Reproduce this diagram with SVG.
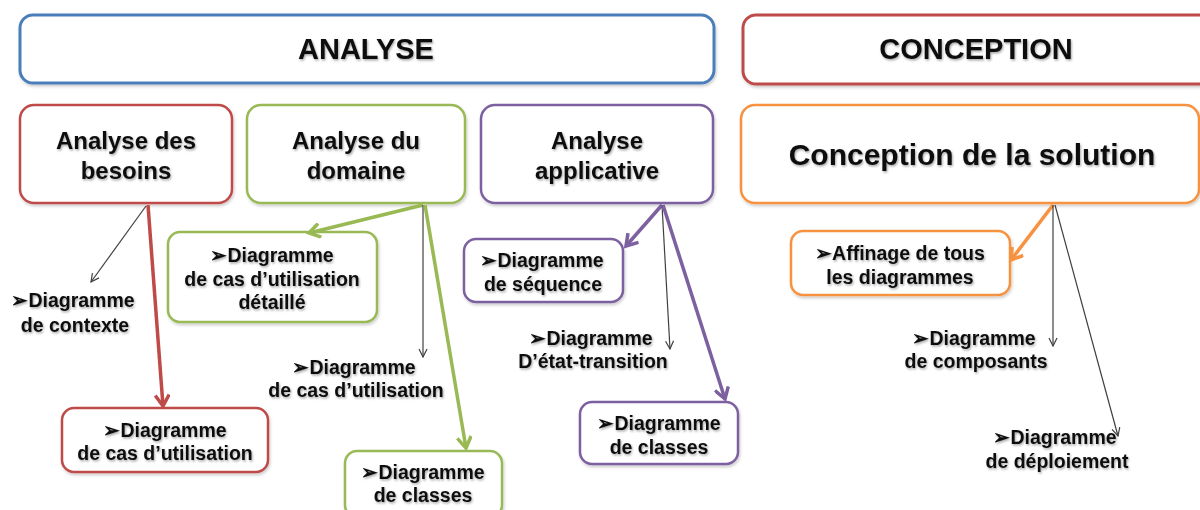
<svg xmlns="http://www.w3.org/2000/svg" width="1200" height="510" viewBox="0 0 1200 510">
<defs>
<style>
text{font-family:"Liberation Sans",Arial,sans-serif;font-weight:bold;fill:#111;text-anchor:middle;filter:url(#ts)}
.hd{font-size:29px}
.l1{font-size:24px}
.big{font-size:30px}
.c{font-size:19.5px}
.box{fill:#fff;stroke-width:2.5;filter:url(#bs)}
.hbox{fill:#fff;stroke-width:3;filter:url(#bs)}
.blue{stroke:#4a7ebb}
.red{stroke:#be4b48}
.green{stroke:#98b954}
.purple{stroke:#7d60a0}
.orange{stroke:#f69240}
.thick{fill:none;stroke-width:3.5}
.thin{fill:none;stroke:#404040;stroke-width:1.2}
</style>
<filter id="ts" x="-10%" y="-30%" width="120%" height="160%">
<feDropShadow dx="1" dy="1.5" stdDeviation="1" flood-color="#000" flood-opacity="0.35"/>
</filter>
<filter id="bs" x="-5%" y="-10%" width="110%" height="125%">
<feDropShadow dx="1" dy="2" stdDeviation="1.5" flood-color="#000" flood-opacity="0.2"/>
</filter>
<marker id="aR" markerUnits="userSpaceOnUse" markerWidth="16" markerHeight="16" refX="13" refY="8" orient="auto" viewBox="0 0 16 16"><path d="M2,1 L13,8 L2,15" fill="none" stroke="#be4b48" stroke-width="3.5"/></marker>
<marker id="aG" markerUnits="userSpaceOnUse" markerWidth="16" markerHeight="16" refX="13" refY="8" orient="auto" viewBox="0 0 16 16"><path d="M2,1 L13,8 L2,15" fill="none" stroke="#98b954" stroke-width="3.5"/></marker>
<marker id="aP" markerUnits="userSpaceOnUse" markerWidth="16" markerHeight="16" refX="13" refY="8" orient="auto" viewBox="0 0 16 16"><path d="M2,1 L13,8 L2,15" fill="none" stroke="#7d60a0" stroke-width="3.5"/></marker>
<marker id="aO" markerUnits="userSpaceOnUse" markerWidth="16" markerHeight="16" refX="13" refY="8" orient="auto" viewBox="0 0 16 16"><path d="M2,1 L13,8 L2,15" fill="none" stroke="#f69240" stroke-width="3.5"/></marker>
<marker id="aK" markerUnits="userSpaceOnUse" markerWidth="10" markerHeight="10" refX="9" refY="5" orient="auto" viewBox="0 0 10 10"><path d="M1,1 L9,5 L1,9" fill="none" stroke="#404040" stroke-width="1.2"/></marker>
</defs>
<rect width="1200" height="510" fill="#fff"/>

<g id="analyse">
<rect class="hbox blue" x="20" y="15" width="694" height="68" rx="13"/>
<text class="hd" x="366" y="59">ANALYSE</text>
</g>
<g id="conception">
<rect class="hbox red" x="743" y="15" width="470" height="69" rx="13"/>
<text class="hd" x="976" y="59">CONCEPTION</text>
</g>

<g id="besoins">
<rect class="box red" x="20" y="105" width="212" height="98" rx="14"/>
<text class="l1" x="126" y="149">Analyse des</text>
<text class="l1" x="126" y="179">besoins</text>
</g>
<g id="domaine">
<rect class="box green" x="247" y="105" width="218" height="98" rx="14"/>
<text class="l1" x="356" y="149">Analyse du</text>
<text class="l1" x="356" y="179">domaine</text>
</g>
<g id="applicative">
<rect class="box purple" x="481" y="105" width="232" height="98" rx="14"/>
<text class="l1" x="597" y="149">Analyse</text>
<text class="l1" x="597" y="179">applicative</text>
</g>
<g id="solution">
<rect class="box orange" x="741" y="105" width="458" height="98" rx="14"/>
<text class="big" x="972" y="165">Conception de la solution</text>
</g>

<g id="contexte">
<text class="c" x="73" y="307">➢Diagramme</text>
<text class="c" x="75" y="332">de contexte</text>
</g>
<g id="cas-besoins">
<rect class="box red" x="62" y="408" width="206" height="64" rx="12"/>
<text class="c" x="165" y="437">➢Diagramme</text>
<text class="c" x="165" y="460">de cas d’utilisation</text>
</g>
<g id="cas-detaille">
<rect class="box green" x="168" y="232" width="209" height="90" rx="12"/>
<text class="c" x="272" y="262">➢Diagramme</text>
<text class="c" x="272" y="286">de cas d’utilisation</text>
<text class="c" x="272" y="309">détaillé</text>
</g>
<g id="cas-domaine">
<text class="c" x="354" y="374">➢Diagramme</text>
<text class="c" x="356" y="397">de cas d’utilisation</text>
</g>
<g id="classes-domaine">
<rect class="box green" x="345" y="451" width="157" height="66" rx="12"/>
<text class="c" x="423" y="479">➢Diagramme</text>
<text class="c" x="423" y="502">de classes</text>
</g>
<g id="sequence">
<rect class="box purple" x="464" y="239" width="159" height="63" rx="12"/>
<text class="c" x="542" y="267">➢Diagramme</text>
<text class="c" x="543" y="291">de séquence</text>
</g>
<g id="etat-transition">
<text class="c" x="591" y="345">➢Diagramme</text>
<text class="c" x="593" y="368">D’état-transition</text>
</g>
<g id="classes-applicative">
<rect class="box purple" x="580" y="402" width="158" height="62" rx="12"/>
<text class="c" x="659" y="430">➢Diagramme</text>
<text class="c" x="659" y="454">de classes</text>
</g>
<g id="affinage">
<rect class="box orange" x="791" y="231" width="219" height="64" rx="12"/>
<text class="c" x="900" y="260">➢Affinage de tous</text>
<text class="c" x="900" y="284">les diagrammes</text>
</g>
<g id="composants">
<text class="c" x="974" y="345">➢Diagramme</text>
<text class="c" x="976" y="368">de composants</text>
</g>
<g id="deploiement">
<text class="c" x="1055" y="444">➢Diagramme</text>
<text class="c" x="1057" y="468">de déploiement</text>
</g>

<g id="connectors">
<line class="thin" x1="146" y1="206" x2="91" y2="282" marker-end="url(#aK)"/>
<line class="thick red" x1="148" y1="205" x2="163" y2="406" marker-end="url(#aR)"/>
<line class="thick green" x1="423" y1="205" x2="309" y2="233" marker-end="url(#aG)"/>
<line class="thin" x1="423" y1="205" x2="423" y2="357" marker-end="url(#aK)"/>
<line class="thick green" x1="425" y1="205" x2="466" y2="448" marker-end="url(#aG)"/>
<line class="thick purple" x1="662" y1="205" x2="626" y2="246" marker-end="url(#aP)"/>
<line class="thin" x1="662" y1="205" x2="670" y2="349" marker-end="url(#aK)"/>
<line class="thick purple" x1="663" y1="205" x2="725" y2="399" marker-end="url(#aP)"/>
<line class="thick orange" x1="1053" y1="205" x2="1011" y2="260" marker-end="url(#aO)"/>
<line class="thin" x1="1053" y1="205" x2="1053" y2="346" marker-end="url(#aK)"/>
<line class="thin" x1="1055" y1="205" x2="1118" y2="436" marker-end="url(#aK)"/>
</g>
</svg>
